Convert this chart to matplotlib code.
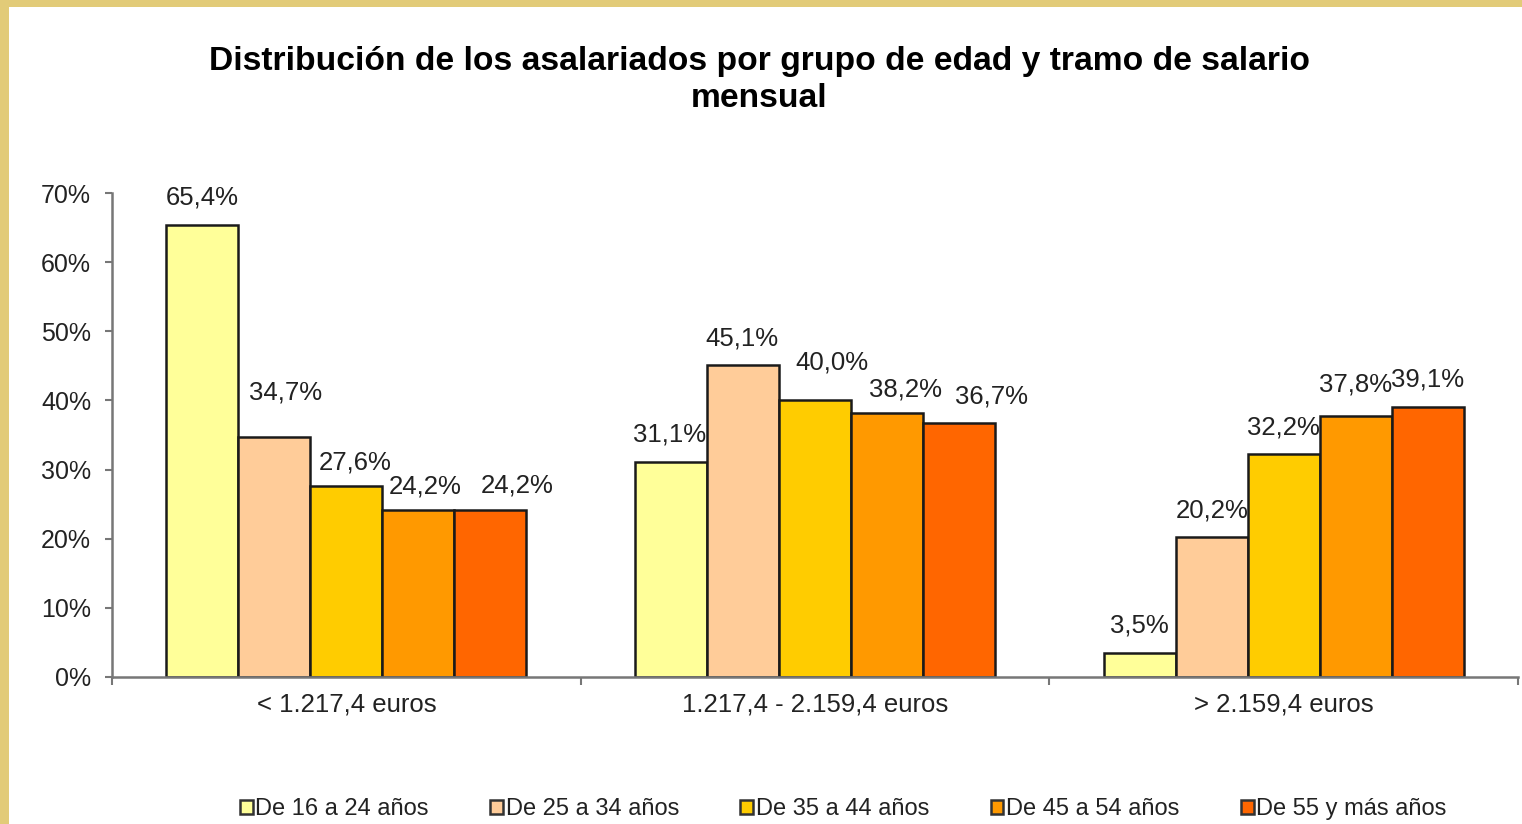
import numpy as np
import matplotlib
matplotlib.use("Agg")
import matplotlib.pyplot as plt
from matplotlib.patches import Rectangle, Patch
from matplotlib.ticker import FuncFormatter

# ---------------------------------------------------------------------------
# Data
# ---------------------------------------------------------------------------
tramos = ["< 1.217,4 euros", "1.217,4 - 2.159,4 euros", "> 2.159,4 euros"]
grupos = ["De 16 a 24 años", "De 25 a 34 años", "De 35 a 44 años",
          "De 45 a 54 años", "De 55 y más años"]
edad_16_24 = [65.4, 31.1, 3.5]
edad_25_34 = [34.7, 45.1, 20.2]
edad_35_44 = [27.6, 40.0, 32.2]
edad_45_54 = [24.2, 38.2, 37.8]
edad_55_mas = [24.2, 36.7, 39.1]
series = [edad_16_24, edad_25_34, edad_35_44, edad_45_54, edad_55_mas]
colores = ["#FFFF99", "#FFCC99", "#FFCC00", "#FF9900", "#FF6600"]

# label nudges (pixels, dx / extra dy) to mimic the spreadsheet's label placement
nudge = [
    [(0, 0), (-2, 0), (0, 0)],
    [(11, 18), (-1, 0), (0, 0)],
    [(9, -3), (17, 11), (0, 0)],
    [(7, -4), (19, -4), (0, 4)],
    [(27, -3), (33, 0), (0, 0)],
]

plt.rcParams["font.family"] = ["Liberation Sans", "DejaVu Sans"]

fig = plt.figure(figsize=(15.22, 8.24), dpi=100)
fig.patch.set_facecolor("white")

# gold frame (top and left)
fig.patches.append(Rectangle((0, 1 - 7 / 824), 1, 7 / 824, transform=fig.transFigure,
                             facecolor="#E2CB78", edgecolor="none", zorder=0))
fig.patches.append(Rectangle((0, 0), 9 / 1522, 1, transform=fig.transFigure,
                             facecolor="#E2CB78", edgecolor="none", zorder=0))

ax = fig.add_axes([112 / 1522, 1 - 677 / 824, (1518 - 112) / 1522, (677 - 193) / 824])

x = np.arange(len(tramos))
width = 0.1535
px = 0.72  # points per pixel at 100 dpi
for i, (vals, col, name) in enumerate(zip(series, colores, grupos)):
    bars = ax.bar(x + (i - 2) * width, vals, width, color=col, edgecolor="#1a1a1a",
                  linewidth=1.8, label=name, zorder=2)
    for j, (b, v) in enumerate(zip(bars, vals)):
        dx, dy = nudge[i][j]
        ax.annotate(f"{v:.1f}%".replace(".", ","),
                    xy=(b.get_x() + b.get_width() / 2, v),
                    xytext=(dx * px, (27 + dy) * px), textcoords="offset points",
                    ha="center", va="center", fontsize=18.5, color="#222222")

ax.set_xlim(-0.5, 2.5)
ax.set_ylim(0, 70)
ax.set_yticks(np.arange(0, 71, 10))
ax.yaxis.set_major_formatter(FuncFormatter(lambda v, p: f"{v:.0f}%"))
ax.set_xticks(x)
ax.set_xticklabels(tramos)
ax.set_xticks([-0.5, 0.5, 1.5, 2.5], minor=True)
ax.tick_params(axis="x", which="major", length=0, pad=11, labelsize=18.5, colors="#222222")
ax.tick_params(axis="x", which="minor", length=6, width=1.5, color="#777777")
ax.tick_params(axis="y", length=5, width=1.5, color="#777777", labelsize=18,
               labelcolor="#222222", pad=10)

for s in ["top", "right"]:
    ax.spines[s].set_visible(False)
for s in ["left", "bottom"]:
    ax.spines[s].set_color("#777777")
    ax.spines[s].set_linewidth(1.8)

fig.text(0.499, 1 - 80 / 824,
         "Distribución de los asalariados por grupo de edad y tramo de salario\nmensual",
         ha="center", va="center", fontsize=24.2, fontweight="bold", linespacing=1.25)

handles = [Patch(facecolor=c, edgecolor="#333333", linewidth=1.8) for c in colores]
fig.legend(handles, grupos, loc="center", bbox_to_anchor=(0.554, 1 - 809 / 824),
           ncol=5, frameon=False, fontsize=17, handlelength=0.55, handleheight=0.55,
           handletextpad=0.1, columnspacing=2.6, labelcolor="#222222")

fig.savefig("out.png", dpi=100)
